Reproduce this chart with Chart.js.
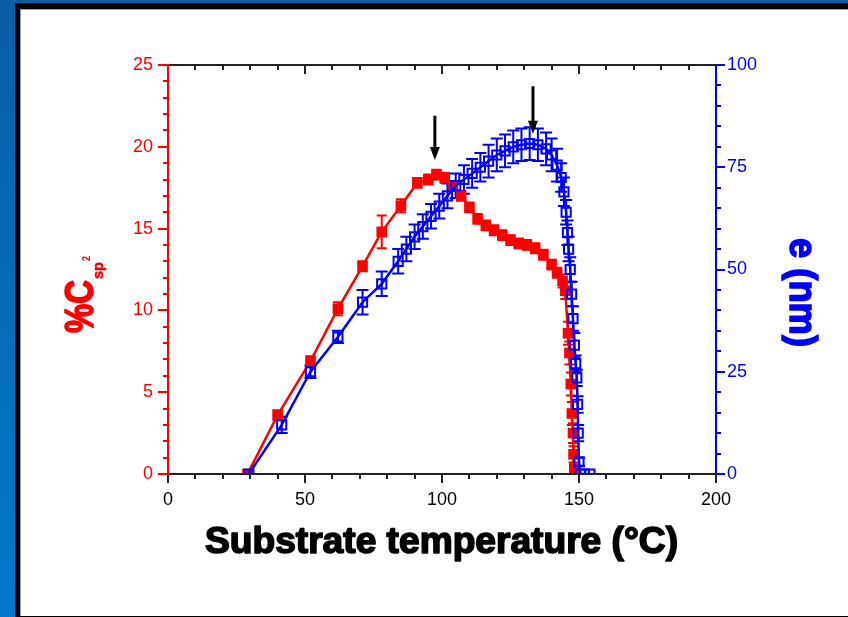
<!DOCTYPE html>
<html lang="en">
<head>
<meta charset="UTF-8">
<title>Csp2 and thickness vs substrate temperature</title>
<style>
    html, body { margin: 0; padding: 0; }
    body {
        width: 848px; height: 617px; overflow: hidden; position: relative;
        background: linear-gradient(to bottom, #0b5ea6, #0079c9);
    }
    #frame {
        position: absolute; left: 15px; top: 3px; width: 833px; height: 614px;
        background: #000;
    }
    #panel {
        position: absolute; left: 20px; top: 9px; width: 827px; height: 606px;
        background: #fff; border-top: 1px solid #a0a0a0; border-left: 1px solid #a0a0a0;
    }
    #myChart { position: absolute; left: 22px; top: 10px; }
</style>
</head>
<body>
<div id="frame"></div>
<div id="panel"></div>
<canvas id="myChart" width="826" height="605"></canvas>

<script src="https://cdn.jsdelivr.net/npm/chart.js"></script>
<script>
    // %Csp2 (red, left axis)
    const tempRed = [29, 40, 52, 62, 71, 78, 85, 91, 95, 98, 101, 104, 107, 110, 113, 116, 119, 122, 125, 128, 131, 134, 137, 140, 142, 144, 145, 146, 146.5, 147, 147.4, 147.8, 148, 148.3];
    const csp2 = [0, 3.6, 6.9, 10.1, 12.7, 14.8, 16.4, 17.8, 18.0, 18.3, 18.1, 17.6, 17.0, 16.3, 15.6, 15.2, 14.9, 14.6, 14.3, 14.1, 14.0, 13.8, 13.4, 12.8, 12.3, 11.8, 11.2, 8.6, 7.4, 5.5, 3.7, 2.5, 1.2, 0.3];
    const csp2Err = [0, 0.3, 0.3, 0.4, 0.3, 1.0, 0.4, 0.3, 0.3, 0.3, 0.3, 0.3, 0.3, 0.3, 0.3, 0.3, 0.3, 0.3, 0.3, 0.3, 0.3, 0.3, 0.3, 0.3, 0.3, 0.4, 0.5, 0.7, 0.7, 0.7, 0.7, 0.6, 0.5, 0.3];

    // thickness e (blue, right axis)
    const tempBlue = [29.5, 41.5, 52, 62, 71, 78, 84, 87, 90, 93, 96, 99, 102, 105, 108, 111, 114, 117, 120, 123, 126, 129, 132, 135, 138, 140, 142, 143.5, 144.5, 145.3, 145.8, 146.2, 146.8, 147.3, 147.8, 148.3, 148.8, 149.2, 149.5, 149.7, 150, 150.5, 152, 154];
    const thickness = [0, 12, 25, 33.5, 42, 46.5, 52, 55, 58, 60.5, 63, 65.5, 68, 70.5, 72, 73.5, 75, 76.5, 78, 79, 80, 80.5, 80.8, 80.5, 79.5, 78, 75.5, 72.5, 69, 64, 59, 55, 50, 44, 38, 31.5, 27, 23.5, 17, 10, 3, 0, 0, 0];
    const thicknessErr = [0, 2, 1.5, 1.5, 3, 3, 3, 3, 3, 3, 3, 3, 3, 3, 3.5, 3.5, 3.5, 4, 4, 4, 4, 4, 4, 4, 4, 4, 4, 3.5, 3.5, 3, 3, 3, 3, 3, 3, 3, 2, 2, 2, 2, 1, 0, 0, 0];

    // tick labels
    const xTickValues = [0, 50, 100, 150, 200];
    const leftTickValues = [0, 5, 10, 15, 20, 25];
    const rightTickValues = [0, 25, 50, 75, 100];

    // arrows (x, top, tip) in left-axis units
    const arrowX = [97.4, 133.2];
    const arrowTop = [21.9, 23.7];
    const arrowTip = [19.2, 20.8];

    const RED = '#ff0000';
    const BLUE = '#0000ff';
    const tickFont = { family: '"Liberation Sans", Arial, sans-serif', size: 18 };

    function drawErr(ctx, xs, ys, es, xs_, ys_, color, cap) {
        ctx.save();
        ctx.strokeStyle = color;
        ctx.lineWidth = 2;
        xs.forEach((t, i) => {
            if (!es[i]) return;
            const px = xs_.getPixelForValue(t);
            const lo = ys_.getPixelForValue(ys[i] - es[i]);
            const hi = ys_.getPixelForValue(ys[i] + es[i]);
            ctx.beginPath();
            ctx.moveTo(px, lo); ctx.lineTo(px, hi);
            ctx.moveTo(px - cap, lo); ctx.lineTo(px + cap, lo);
            ctx.moveTo(px - cap, hi); ctx.lineTo(px + cap, hi);
            ctx.stroke();
        });
        ctx.restore();
    }

    // text squeezed to a given width, stroked a little to look heavier
    function fitText(ctx, text, x, y, width, stroke) {
        const w = ctx.measureText(text).width;
        ctx.save();
        ctx.translate(x, y);
        ctx.scale(width / w, 1);
        ctx.fillText(text, 0, 0);
        if (stroke) {
            ctx.strokeStyle = ctx.fillStyle;
            ctx.lineWidth = stroke;
            ctx.lineJoin = 'round';
            ctx.strokeText(text, 0, 0);
        }
        ctx.restore();
    }

    const decor = {
        id: 'decor',
        beforeDatasetsDraw(chart) {
            const { ctx, scales } = chart;
            drawErr(ctx, tempRed, csp2, csp2Err, scales.x, scales.y, RED, 5);
            drawErr(ctx, tempBlue, thickness, thicknessErr, scales.x, scales.y2, BLUE, 6);
        },
        afterDraw(chart) {
            const { ctx, chartArea: a, scales } = chart;
            ctx.save();
            ctx.lineWidth = 2;

            // top & bottom axes
            ctx.strokeStyle = '#222';
            ctx.beginPath();
            ctx.moveTo(a.left, a.top); ctx.lineTo(a.right, a.top);
            ctx.moveTo(a.left, a.bottom); ctx.lineTo(a.right, a.bottom);
            for (let v = 0; v <= 200; v += 10) {
                const px = Math.round(scales.x.getPixelForValue(v));
                const len = v % 50 === 0 ? 9 : 5;
                ctx.moveTo(px, a.bottom); ctx.lineTo(px, a.bottom + len);
                ctx.moveTo(px, a.top); ctx.lineTo(px, a.top + len);
            }
            ctx.stroke();

            // left axis
            ctx.strokeStyle = RED;
            ctx.beginPath();
            ctx.moveTo(a.left, a.top - 1); ctx.lineTo(a.left, a.bottom + 1);
            for (let v = 0; v <= 25; v += 1) {
                const py = Math.round(scales.y.getPixelForValue(v));
                const len = v % 5 === 0 ? 10 : 5;
                ctx.moveTo(a.left, py); ctx.lineTo(a.left - len, py);
            }
            ctx.stroke();

            // right axis
            ctx.strokeStyle = BLUE;
            ctx.beginPath();
            ctx.moveTo(a.right, a.top - 1); ctx.lineTo(a.right, a.bottom + 1);
            for (let v = 0; v <= 100; v += 5) {
                const py = Math.round(scales.y2.getPixelForValue(v));
                const len = v % 25 === 0 ? 9 : 5;
                ctx.moveTo(a.right, py); ctx.lineTo(a.right + len, py);
            }
            ctx.stroke();

            // arrows
            ctx.strokeStyle = '#000';
            ctx.fillStyle = '#000';
            ctx.lineWidth = 3;
            arrowX.forEach((t, i) => {
                const px = scales.x.getPixelForValue(t);
                const top = scales.y.getPixelForValue(arrowTop[i]);
                const tip = scales.y.getPixelForValue(arrowTip[i]);
                ctx.beginPath();
                ctx.moveTo(px, top); ctx.lineTo(px, tip - 6);
                ctx.stroke();
                ctx.beginPath();
                ctx.moveTo(px - 5, tip - 13); ctx.lineTo(px + 5, tip - 13); ctx.lineTo(px, tip);
                ctx.closePath();
                ctx.fill();
            });

            // x title
            ctx.fillStyle = '#000';
            ctx.textBaseline = 'alphabetic';
            ctx.textAlign = 'left';
            ctx.font = 'bold 36px "Liberation Sans", Arial, sans-serif';
            fitText(ctx, 'Substrate temperature (°C)', 183, 543, 473, 1.6);

            // left title %Csp2
            ctx.fillStyle = RED;
            ctx.save();
            ctx.translate(71, 323);
            ctx.rotate(-Math.PI / 2);
            ctx.font = 'bold 40px "Liberation Sans", Arial, sans-serif';
            fitText(ctx, '%C', 0, 0, 53, 1.6);
            ctx.font = 'bold 15px "Liberation Sans", Arial, sans-serif';
            fitText(ctx, 'sp', 54, 10, 17, 0.6);
            ctx.font = 'bold 10px "Liberation Sans", Arial, sans-serif';
            fitText(ctx, '2', 72, -3, 5, 0);
            ctx.restore();

            // right title e (nm)
            ctx.fillStyle = BLUE;
            ctx.save();
            ctx.translate(768, 228);
            ctx.rotate(Math.PI / 2);
            ctx.font = 'bold 38px "Liberation Sans", Arial, sans-serif';
            fitText(ctx, 'e (nm)', 0, 0, 109, 1.6);
            ctx.restore();

            ctx.restore();
        }
    };

    const canvas = document.getElementById('myChart');

    const myChart = new Chart(canvas, {
        type: 'line',
        data: {
            datasets: [{
                label: 'e (nm)',
                data: tempBlue.map((t, i) => ({ x: t, y: thickness[i] })),
                yAxisID: 'y2',
                borderColor: BLUE,
                borderWidth: 2.5,
                pointStyle: 'rect',
                pointRadius: 6.5,
                pointBorderWidth: 2,
                pointBorderColor: BLUE,
                pointBackgroundColor: 'rgba(255,255,255,0)',
                tension: 0
            }, {
                label: '%Csp2',
                data: tempRed.map((t, i) => ({ x: t, y: csp2[i] })),
                yAxisID: 'y',
                borderColor: RED,
                borderWidth: 2.5,
                pointStyle: 'rect',
                pointRadius: 7.5,
                pointBorderWidth: 0,
                pointBackgroundColor: RED,
                tension: 0
            }]
        },
        options: {
            responsive: false,
            animation: false,
            layout: { padding: { top: 55, left: 0, right: 0, bottom: 0 } },
            plugins: { legend: { display: false }, tooltip: { enabled: false } },
            scales: {
                x: {
                    type: 'linear', position: 'bottom', min: 0, max: 200,
                    grid: { display: false, drawTicks: false }, border: { display: false },
                    ticks: { color: '#000', font: tickFont, padding: 15, maxRotation: 0 },
                    afterBuildTicks: s => { s.ticks = xTickValues.map(v => ({ value: v })); },
                    afterFit: s => { s.height = 141; }
                },
                y: {
                    type: 'linear', position: 'left', min: 0, max: 25,
                    grid: { display: false, drawTicks: false }, border: { display: false },
                    ticks: { color: RED, font: tickFont, padding: 15 },
                    afterBuildTicks: s => { s.ticks = leftTickValues.map(v => ({ value: v })); },
                    afterFit: s => { s.width = 146; }
                },
                y2: {
                    type: 'linear', position: 'right', min: 0, max: 100,
                    grid: { display: false, drawTicks: false }, border: { display: false },
                    ticks: { color: BLUE, font: tickFont, padding: 11 },
                    afterBuildTicks: s => { s.ticks = rightTickValues.map(v => ({ value: v })); },
                    afterFit: s => { s.width = 132; }
                }
            }
        },
        plugins: [decor]
    });
</script>
</body>
</html>
